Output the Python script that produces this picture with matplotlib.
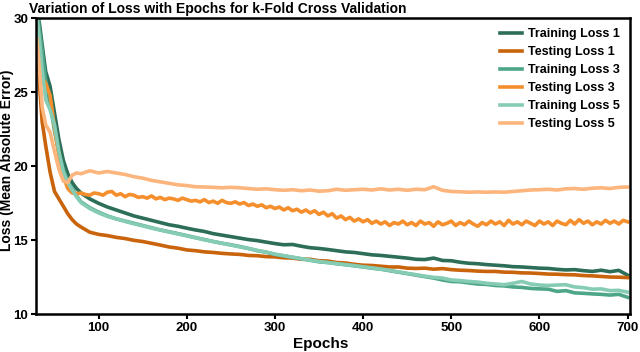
import matplotlib
matplotlib.use("Agg")
import matplotlib.pyplot as plt

plt.rcParams['font.family'] = ['Liberation Sans', 'DejaVu Sans']
plt.rcParams['font.weight'] = 'bold'

epochs = [30, 33, 36, 40, 45, 50, 55, 60, 65, 70, 75, 80, 90,
          100, 110, 120, 130, 140, 150, 160, 170, 180, 190,
          200, 210, 220, 230, 240, 250, 260, 270, 280, 290,
          300, 310, 320, 330, 340, 350, 360, 370, 380, 390,
          400, 410, 420, 430, 440, 450, 460, 470, 480, 490,
          500, 510, 520, 530, 540, 550, 560, 570, 580, 590,
          600, 610, 620, 630, 640, 650, 660, 670, 680, 690, 700]
# the noisy testing curve 3 was read on a finer grid
epochs_fine = [30, 33, 36, 40, 45, 50, 55, 60, 65, 70, 75, 80, 85, 90, 95] + list(range(100, 701, 5))

train_1 = [30.6, 29.6, 28.2, 26.4, 25.4, 23.6, 21.8, 20.4, 19.5, 18.9, 18.5, 18.2, 17.8,
           17.5, 17.25, 17.05, 16.85, 16.65, 16.5, 16.35, 16.2, 16.05, 15.95,
           15.82, 15.7, 15.6, 15.45, 15.35, 15.25, 15.15, 15.05, 14.98, 14.88,
           14.78, 14.7, 14.72, 14.6, 14.5, 14.45, 14.38, 14.3, 14.22, 14.18,
           14.1, 14.02, 13.98, 13.92, 13.86, 13.8, 13.72, 13.7, 13.8, 13.64,
           13.62, 13.52, 13.45, 13.42, 13.36, 13.32, 13.28, 13.22, 13.2, 13.16,
           13.12, 13.1, 13.04, 13.0, 13.02, 12.95, 12.9, 12.98, 12.88, 12.97, 12.65]

test_1 = [28.5, 25.5, 23.0, 21.4, 19.6, 18.3, 17.8, 17.3, 16.8, 16.4, 16.1, 15.9, 15.55,
          15.4, 15.32, 15.2, 15.12, 15.0, 14.92, 14.8, 14.68, 14.55, 14.47,
          14.35, 14.3, 14.22, 14.18, 14.12, 14.08, 14.05, 13.98, 13.96, 13.9,
          13.88, 13.82, 13.8, 13.72, 13.72, 13.62, 13.6, 13.5, 13.47, 13.38,
          13.32, 13.3, 13.25, 13.2, 13.2, 13.12, 13.1, 13.12, 13.05, 13.09,
          13.02, 12.98, 12.96, 12.92, 12.9, 12.9, 12.85, 12.84, 12.8, 12.79,
          12.76, 12.72, 12.71, 12.68, 12.67, 12.62, 12.6, 12.56, 12.52, 12.51, 12.48]

train_3 = [30.8, 29.2, 27.8, 25.8, 24.2, 22.4, 20.9, 19.8, 19.0, 18.5, 18.0, 17.6, 17.2,
           16.9, 16.65, 16.45, 16.3, 16.15, 16.0, 15.85, 15.7, 15.58, 15.45,
           15.32, 15.18, 15.05, 14.92, 14.8, 14.7, 14.58, 14.45, 14.3, 14.2,
           14.05, 13.95, 13.85, 13.75, 13.65, 13.55, 13.5, 13.42, 13.35, 13.28,
           13.2, 13.12, 13.05, 12.95, 12.85, 12.75, 12.65, 12.55, 12.45, 12.32,
           12.22, 12.2, 12.12, 12.05, 12.02, 11.95, 11.92, 11.85, 11.82, 11.75,
           11.72, 11.7, 11.55, 11.6, 11.45, 11.42, 11.38, 11.35, 11.3, 11.35, 11.15]

test_3 = [28.0, 27.0, 26.0, 25.6, 24.8, 22.6, 20.7, 19.3, 18.5, 18.2, 18.15, 18.2, 18.1, 18.05, 18.2,
          18.15, 18.05, 18.25, 18.3, 18.05, 18.15, 17.95, 18.1, 18.05, 17.9,
          17.95, 17.85, 18.0, 17.8, 17.9, 17.75, 17.85, 17.8, 17.7, 17.85,
          17.75, 17.65, 17.7, 17.6, 17.75, 17.55, 17.65, 17.5, 17.7, 17.55,
          17.5, 17.6, 17.45, 17.55, 17.35, 17.45, 17.3, 17.4, 17.2, 17.3,
          17.15, 17.25, 17.05, 17.2, 17.0, 17.1, 16.9, 17.05, 16.85, 17.0,
          16.75, 16.9, 16.65, 16.8, 16.5, 16.65, 16.4, 16.55, 16.3, 16.45,
          16.25, 16.4, 16.15, 16.3, 16.1, 16.25, 16.0, 16.2, 16.1, 16.3,
          16.05, 16.2, 16.0, 16.3, 16.1, 16.2, 15.95, 16.25, 16.05, 16.15,
          16.3, 16.0, 16.2, 16.05, 16.3, 16.1, 15.95, 16.2, 16.05, 16.3,
          16.1, 16.25, 16.0, 16.35, 16.1, 16.25, 16.05, 16.3, 16.15, 16.0,
          16.3, 16.1, 16.25, 16.0, 16.3, 16.15, 16.05, 16.35, 16.1, 16.4,
          16.15, 16.3, 16.05, 16.25, 16.1, 16.35, 16.15, 16.3, 16.1, 16.35,
          16.25]

train_5 = [30.2, 28.5, 26.5, 24.5, 23.8, 22.8, 21.0, 19.6, 18.9, 18.4, 17.95, 17.55, 17.15,
           16.85, 16.62, 16.45, 16.28, 16.12, 15.98, 15.83, 15.7, 15.56, 15.43,
           15.3, 15.17, 15.04, 14.92, 14.8, 14.68, 14.56, 14.45, 14.32, 14.2,
           14.07, 13.96, 13.86, 13.76, 13.66, 13.57, 13.5, 13.43, 13.36, 13.29,
           13.21, 13.14, 13.06, 12.97, 12.87, 12.77, 12.68, 12.58, 12.5, 12.45,
           12.32, 12.28, 12.22, 12.18, 12.1, 12.05, 12.0, 12.1, 12.22, 12.05,
           11.98, 11.95, 11.98, 12.0, 11.85, 11.8, 11.7, 11.72, 11.6, 11.62, 11.5]

test_5 = [28.6, 26.5, 24.0, 22.8, 22.3, 21.0, 19.8, 19.0, 18.9, 19.4, 19.55, 19.5, 19.7,
          19.55, 19.65, 19.55, 19.45, 19.3, 19.2, 19.05, 18.95, 18.85, 18.75,
          18.7, 18.62, 18.6, 18.58, 18.55, 18.58, 18.55, 18.5, 18.45, 18.48,
          18.42, 18.38, 18.42, 18.35, 18.4, 18.32, 18.35, 18.45, 18.38, 18.42,
          18.45, 18.4, 18.48, 18.4, 18.45, 18.38, 18.45, 18.42, 18.62, 18.38,
          18.3, 18.28, 18.25, 18.27, 18.25, 18.27, 18.25, 18.3, 18.35, 18.4,
          18.42, 18.45, 18.4, 18.48, 18.5, 18.45, 18.52, 18.55, 18.5, 18.58, 18.6]

labels = ['Training Loss 1', 'Testing Loss 1', 'Training Loss 3',
          'Testing Loss 3', 'Training Loss 5', 'Testing Loss 5']
colors = ['#2d6e58', '#c9640c', '#4ea68a', '#f58e2c', '#86cbb3', '#fcb57c']
series = [(epochs, train_1), (epochs, test_1), (epochs, train_3),
          (epochs_fine, test_3), (epochs, train_5), (epochs, test_5)]

fig = plt.figure(figsize=(6.4, 3.52), dpi=100)
ax = fig.add_axes([0.05625, 0.107, 0.9278, 0.841])

for (x, y), lab, c in zip(series, labels, colors):
    ax.plot(x, y, color=c, linewidth=2.6, label=lab)

ax.set_xlim(29, 702.5)
ax.set_ylim(10, 30)
ax.set_xticks([100, 200, 300, 400, 500, 600, 700])
ax.set_yticks([10, 15, 20, 25, 30])
ax.tick_params(labelsize=9.5, width=1.5, length=3.5, pad=2)
for s in ax.spines.values():
    s.set_linewidth(1.8)

ax.set_xlabel('Epochs', fontsize=11, fontweight='bold')
ax.xaxis.set_label_coords(0.48, -0.075)
ax.set_ylabel('Loss (Mean Absolute Error)', fontsize=10, fontweight='bold')
ax.yaxis.set_label_coords(-0.037, 0.52)

fig.text(29 / 640, 0.962, 'Variation of Loss with Epochs for k-Fold Cross Validation',
         fontsize=10, fontweight='bold', va='baseline', ha='left')

ax.legend(loc='upper right', frameon=False, fontsize=9, handlelength=1.7,
          labelspacing=0.48, borderaxespad=0.4, handletextpad=0.5)

fig.savefig('out.png', dpi=100)
